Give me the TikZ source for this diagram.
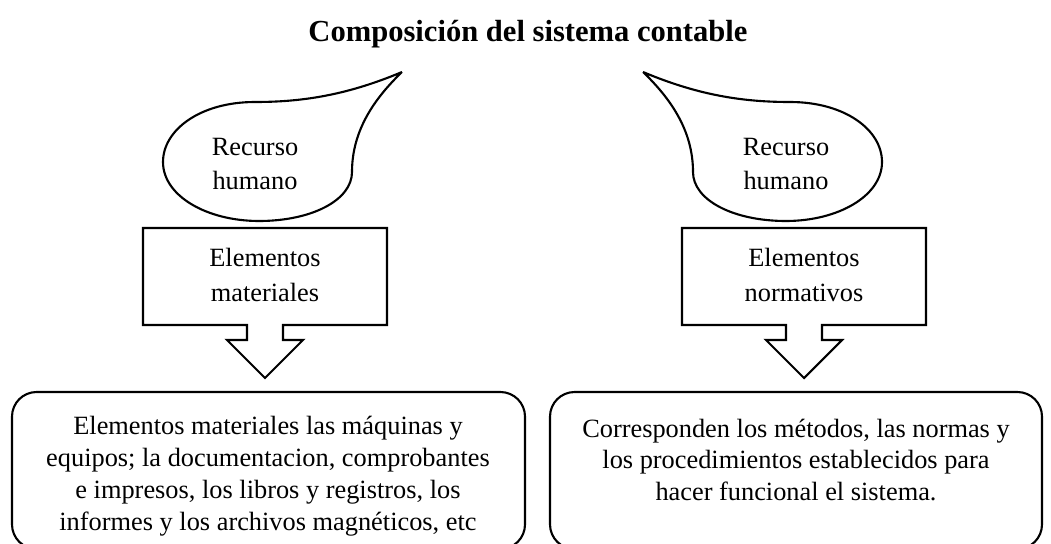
\documentclass[tikz,border=0pt]{standalone}
\usepackage{fontspec}
\setmainfont{Liberation Serif}
\usetikzlibrary{positioning}

\tikzset{
  shapeline/.style={line width=1.2pt,black},
  bodytext/.style={align=center,font=\fontsize{15}{19.5}\selectfont},
  longtext/.style={align=center,font=\fontsize{15}{18.1}\selectfont}
}

\begin{document}
\begin{tikzpicture}[x=0.02cm,y=-0.02cm]
    \useasboundingbox (0,0) rectangle (1051,544);

    % Title
    \node[font=\fontsize{17.4}{20}\selectfont\bfseries] (title) at (528,34) {Composición del sistema contable};

    % Callouts (left and right, mirrored)
    \draw[shapeline] (402,72) .. controls (345,96) and (300,102) .. (255,102)
      .. controls (200,102) and (163,130) .. (163,162)
      .. controls (163,196) and (207,221) .. (259,221)
      .. controls (312,221) and (352,200) .. (352,172)
      .. controls (352,130) and (375,98) .. (402,72);
    \draw[shapeline] (643,72) .. controls (700,96) and (745,102) .. (790,102)
      .. controls (845,102) and (882,130) .. (882,162)
      .. controls (882,196) and (838,221) .. (786,221)
      .. controls (733,221) and (693,200) .. (693,172)
      .. controls (693,130) and (670,98) .. (643,72);
    \node[bodytext] (recursoL) at (255,164) {Recurso\\humano};
    \node[bodytext] (recursoR) at (786,164) {Recurso\\humano};

    % Boxes with arrow
    \draw[shapeline] (143,228) -- (387,228) -- (387,325) -- (283,325) -- (283,340)
      -- (303,340) -- (265,378) -- (227,340) -- (247,340) -- (247,325) -- (143,325) -- cycle;
    \draw[shapeline] (682,228) -- (926,228) -- (926,325) -- (822,325) -- (822,340)
      -- (842,340) -- (804,378) -- (766,340) -- (786,340) -- (786,325) -- (682,325) -- cycle;
    \node[bodytext] (materiales) at (265,275) {Elementos\\materiales};
    \node[bodytext] (normativos) at (804,275) {Elementos\\normativos};

    % Bottom descriptions
    \draw[shapeline,rounded corners=14pt] (12,392) rectangle (525,549);
    \draw[shapeline,rounded corners=14pt] (550,392) rectangle (1042,549);
    \node[longtext] (descL) at (268,476) {Elementos materiales las máquinas y\\equipos; la documentacion, comprobantes\\e impresos, los libros y registros, los\\informes y los archivos magnéticos, etc};
    \node[longtext] (descR) at (796,460) {Corresponden los métodos, las normas y\\los procedimientos establecidos para\\hacer funcional el sistema.};
\end{tikzpicture}
\end{document}
